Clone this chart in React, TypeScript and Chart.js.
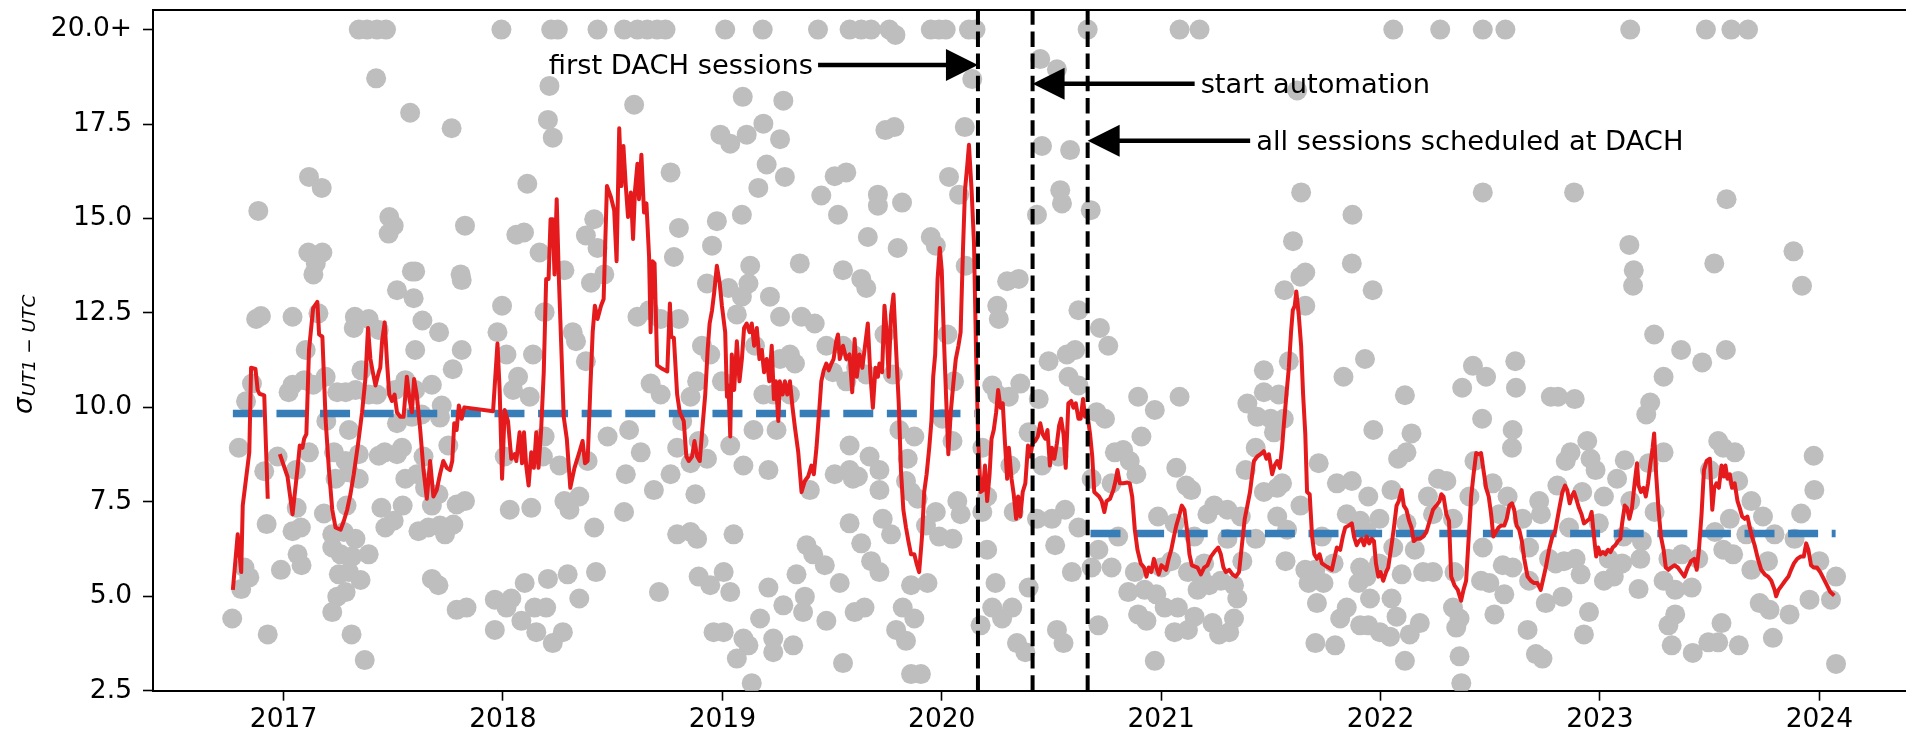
import React, { useEffect, useRef } from "react";
import { Chart, registerables } from "chart.js";

Chart.register(...registerables);

const FONT = '"DejaVu Sans", sans-serif';

// ---- axis ticks ----
const xTickYears = [2017, 2018, 2019, 2020, 2021, 2022, 2023, 2024];
const yTickValues = [2.5, 5, 7.5, 10, 12.5, 15, 17.5, 20];
const capValue = 20; // values above are shown at 20.0+
const xMin = 2016.405;
const xMax = 2024.6;
const yMin = 2.5;
const yMax = 20.519;

// ---- session scatter (year, sigma) ----
const sessions2016to2017: [number, number][] = [
  [2017.343,20],[2017.381,20],[2017.426,20],[2017.467,20],[2017.993,20],[2017.422,18.71],[2017.577,17.80],[2017.766,17.39],[2017.116,16.10],[2017.174,15.81],[2016.885,15.20],[2017.482,15.04],[2017.502,14.81],[2017.479,14.60],[2017.827,14.81],[2017.113,14.10],[2017.177,14.10],[2017.147,13.81],[2017.136,13.52],[2017.585,13.60],[2017.600,13.60],[2017.807,13.52],[2017.812,13.37],[2017.517,13.10],[2017.593,12.89],[2016.875,12.34],[2016.897,12.42],[2017.041,12.40],[2017.159,12.49],[2017.325,12.40],[2017.388,12.34],[2017.320,12.10],[2017.434,12.05],[2017.633,12.30],[2017.709,11.99],[2017.996,12.69],[2017.975,11.99],[2017.101,11.52],[2017.600,11.52],[2017.812,11.52],[2017.355,10.98],[2017.771,11.01],
  [2016.856,10.63],[2017.192,10.81],[2017.041,10.60],[2017.094,10.72],[2017.023,10.40],[2017.135,10.60],[2016.829,10.16],[2017.245,10.40],[2017.283,10.40],[2017.328,10.46],[2017.388,10.34],[2017.426,10.34],[2017.509,10.46],[2017.555,10.72],[2017.600,10.46],[2017.676,10.60],[2017.721,10.05],[2017.713,9.73],[2017.195,9.64],[2017.298,9.40],[2017.517,9.58],[2017.585,9.75],[2017.630,9.81],[2016.796,8.93],[2017.116,8.81],[2016.973,8.70],[2017.056,8.34],[2016.912,8.31],[2017.230,8.81],[2017.283,8.58],[2017.343,8.76],[2017.434,8.72],[2017.461,8.81],[2017.517,8.76],[2017.540,8.93],[2017.638,8.70],[2017.751,8.99],[2017.237,8.11],[2017.298,8.28],[2017.343,8.11],[2017.555,8.11],[2017.608,8.23],[2017.645,7.87],[2017.706,7.70],[2017.676,7.40],[2017.060,7.34],[2017.184,7.19],[2017.287,7.40],[2017.446,7.34],[2017.543,7.40],[2017.789,7.43],[2017.827,7.52],[2016.923,6.91],[2017.041,6.72],[2017.079,6.82],[2017.222,6.64],[2017.275,6.70],[2017.328,6.52],[2017.464,6.82],[2017.502,7.00],[2017.615,6.72],[2017.660,6.82],[2017.713,6.87],[2017.736,6.64],[2017.774,6.90],[2017.064,6.11],[2017.222,6.29],[2017.260,6.11],[2017.313,6.05],[2017.388,6.11],[2016.822,5.76],[2016.844,5.50],[2016.807,5.19],[2016.988,5.70],[2017.082,5.82],[2017.252,5.58],[2017.298,5.64],[2017.351,5.43],[2017.676,5.46],[2017.706,5.29],[2017.245,4.99],[2017.283,5.11],[2017.222,4.58],[2017.789,4.64],[2017.834,4.70],[2017.963,4.91],[2018.016,4.70],[2017.963,4.11],[2016.766,4.41],[2016.928,3.99],[2017.310,3.99],[2017.370,3.31],
];

const sessions2018to2019: [number, number][] = [
  [2018.220,20],[2018.250,20],[2018.431,20],[2018.552,20],[2018.613,20],[2018.658,20],[2018.703,20],[2018.741,20],[2019.013,20],[2019.184,20],[2019.436,20],[2019.580,20],
  [2018.212,18.51],[2018.598,18.01],[2018.205,17.61],[2018.227,17.14],[2019.278,18.12],[2019.093,18.22],[2019.187,17.51],[2018.991,17.22],[2019.111,17.22],[2019.036,16.98],[2019.263,17.10],[2018.111,15.92],[2018.764,16.22],[2019.202,16.43],[2019.285,16.10],[2019.164,15.81],[2019.451,15.61],[2019.512,16.12],[2019.565,16.22],[2018.061,14.57],[2018.096,14.63],[2018.167,14.10],[2018.378,14.55],[2018.416,14.98],[2018.431,14.22],[2018.802,14.75],[2018.779,13.98],[2018.975,14.93],[2019.089,15.10],[2018.953,14.28],[2019.527,15.10],[2018.280,13.63],[2018.401,13.30],[2018.462,13.52],[2019.127,13.75],[2019.353,13.81],[2019.550,13.63],[2018.930,13.28],[2019.028,13.16],[2018.190,12.52],[2018.613,12.40],[2018.666,12.57],[2018.719,12.34],[2018.802,12.34],[2019.119,13.28],[2019.089,12.93],[2019.217,12.93],[2019.066,12.46],[2019.263,12.40],[2019.361,12.40],[2019.421,12.22],[2018.016,11.40],[2018.137,11.40],[2018.318,11.99],[2018.333,11.75],[2018.378,11.22],[2018.907,11.63],[2018.945,11.40],[2019.149,11.63],[2019.263,11.28],[2019.308,11.40],[2019.331,11.16],[2019.474,11.63],[2019.550,11.63],[2019.595,11.40],
  [2018.069,10.81],[2018.046,10.46],[2018.122,10.28],[2018.673,10.63],[2018.719,10.34],[2018.855,10.28],[2018.885,10.69],[2018.998,10.69],[2019.187,10.34],[2019.232,10.34],[2019.308,10.34],[2019.504,10.93],[2019.565,10.69],[2018.190,9.23],[2018.477,9.23],[2018.575,9.40],[2018.817,9.64],[2018.892,9.11],[2019.036,8.99],[2019.142,9.40],[2019.247,9.40],[2019.580,8.99],[2018.008,8.70],[2018.182,8.70],[2018.258,8.46],[2018.386,8.58],[2018.628,8.81],[2018.794,8.93],[2018.855,8.52],[2018.930,8.64],[2019.096,8.46],[2019.210,8.34],[2019.512,8.23],[2019.580,8.34],[2018.560,8.23],[2018.688,7.81],[2018.764,8.23],[2018.877,7.70],[2018.280,7.52],[2018.348,7.64],[2019.399,7.81],[2019.595,8.11],[2018.031,7.29],[2018.129,7.34],[2018.303,7.29],[2018.552,7.23],[2018.416,6.82],[2018.794,6.64],[2018.855,6.70],[2018.885,6.52],[2019.051,6.64],[2019.384,6.35],[2019.414,6.11],[2019.467,5.82],[2019.580,6.93],
  [2018.099,5.35],[2018.205,5.46],[2018.295,5.58],[2018.424,5.64],[2018.711,5.11],[2018.892,5.52],[2018.945,5.29],[2019.036,5.11],[2019.006,5.64],[2019.210,5.23],[2019.338,5.58],[2019.376,4.99],[2019.535,5.35],[2018.038,4.94],[2018.084,4.35],[2018.144,4.70],[2018.197,4.70],[2018.348,4.94],[2019.278,4.76],[2019.368,4.58],[2019.474,4.35],[2019.603,4.58],[2018.152,4.05],[2018.227,3.76],[2018.273,4.05],[2018.960,4.05],[2019.006,4.05],[2019.096,3.88],[2019.172,4.41],[2019.232,3.88],[2019.232,3.52],[2019.323,3.70],[2019.119,3.70],[2019.066,3.35],[2019.134,2.70],[2019.550,3.23],
];

const sessions2019to2021: [number, number][] = [
  [2019.633,20],[2019.678,20],[2019.761,20],[2019.789,19.86],[2019.950,20],[2019.988,20],[2020.018,20],[2020.124,20],[2020.154,20],[2020.665,20],[2021.084,20],[2021.175,20],
  [2020.139,18.69],[2020.449,19.22],[2020.525,18.95],[2019.743,17.34],[2019.784,17.42],[2020.105,17.42],[2020.457,16.92],[2020.585,16.81],[2020.033,16.10],[2019.709,15.63],[2019.709,15.34],[2019.819,15.42],[2020.079,15.63],[2020.540,15.75],[2020.548,15.40],[2020.434,15.10],[2020.679,15.22],[2019.663,14.51],[2019.950,14.51],[2019.973,14.28],[2019.799,14.22],[2020.109,13.75],[2019.633,13.40],[2019.656,13.16],[2020.298,13.34],[2020.351,13.40],[2020.253,12.69],[2020.260,12.34],[2020.623,12.57],[2020.721,12.10],[2020.759,11.63],[2019.739,11.93],[2020.026,11.93],[2019.610,11.05],[2019.656,10.87],[2019.777,10.87],[2020.056,10.69],[2020.487,11.22],[2020.570,11.40],[2020.608,11.52],[2020.578,10.81],[2020.623,10.58],[2020.230,10.58],[2020.253,10.34],[2020.306,10.28],[2020.358,10.63],[2020.442,10.22],[2020.895,10.28],[2020.971,9.93],[2021.084,10.28],
  [2020.003,9.70],[2020.706,9.87],[2020.744,9.70],[2019.807,9.40],[2019.875,9.23],[2020.049,9.11],[2020.396,9.34],[2020.910,9.23],[2020.185,8.93],[2019.671,8.70],[2019.716,8.34],[2019.618,8.17],[2019.837,8.05],[2019.845,8.64],[2020.313,8.46],[2020.457,8.46],[2020.532,8.70],[2020.789,8.81],[2020.827,8.87],[2020.857,8.58],[2021.069,8.40],[2021.114,7.93],[2021.137,7.81],[2019.716,7.81],[2019.860,7.76],[2019.890,7.58],[2020.071,7.52],[2020.207,7.64],[2020.683,8.11],[2020.774,7.99],[2020.887,8.23],[2019.731,7.05],[2019.973,7.23],[2020.086,7.17],[2020.185,7.23],[2020.328,7.23],[2020.434,7.05],[2020.502,7.05],[2020.562,7.29],[2020.623,6.82],[2020.986,7.11],[2021.061,6.93],[2019.769,6.64],[2019.633,6.40],[2019.928,6.87],[2019.988,6.58],[2020.049,6.52],[2020.207,6.23],[2020.517,6.35],[2020.714,6.23],[2020.804,6.58],
  [2019.678,5.93],[2019.716,5.64],[2020.593,5.64],[2020.683,5.76],[2020.774,5.76],[2020.880,5.64],[2021.001,5.76],[2021.046,5.93],[2021.122,5.64],[2019.860,5.29],[2019.935,5.35],[2020.245,5.35],[2020.396,5.23],[2020.850,5.11],[2020.925,5.17],[2020.978,5.05],[2019.648,4.70],[2019.822,4.70],[2019.875,4.41],[2020.230,4.70],[2020.275,4.41],[2020.321,4.70],[2020.895,4.52],[2020.933,4.35],[2021.016,4.70],[2021.076,4.70],[2021.152,4.46],[2019.792,4.11],[2019.837,3.82],[2020.177,4.23],[2020.525,4.11],[2020.555,3.76],[2020.714,4.23],[2021.061,4.05],[2021.122,4.11],[2020.343,3.76],[2020.381,3.52],[2019.860,2.94],[2019.905,2.94],[2020.971,3.29],
];

const sessions2021to2022: [number, number][] = [
  [2022.058,20],[2022.272,20],[2022.466,20],[2022.569,20],
  [2021.620,18.39],[2021.638,15.69],[2022.466,15.69],[2021.872,15.10],[2021.601,14.40],[2021.869,13.81],[2021.657,13.57],[2021.635,13.46],[2021.964,13.10],[2021.562,13.10],[2021.657,12.69],[2021.929,11.28],[2021.468,10.98],[2021.582,11.22],[2021.831,10.81],[2022.421,11.10],[2022.481,10.81],[2022.614,11.22],[2022.617,10.52],[2022.372,10.52],[2022.111,10.32],[2021.393,10.10],[2021.468,10.40],[2021.438,9.75],[2021.499,9.70],[2021.559,9.70],[2021.536,10.34],[2022.463,9.70],[2021.967,9.40],[2022.141,9.31],[2022.602,9.40],[2022.599,8.93],[2022.776,10.28],[2021.431,8.93],[2021.514,9.34],[2021.385,8.34],[2022.118,8.81],[2022.080,8.64],[2022.428,8.58],[2021.718,8.52],
  [2021.242,7.40],[2021.302,7.29],[2021.529,7.87],[2021.551,7.99],[2021.468,7.76],[2021.635,7.40],[2021.801,7.99],[2021.869,8.05],[2021.944,7.64],[2022.050,7.81],[2022.262,8.11],[2022.300,8.05],[2022.216,7.64],[2022.405,7.64],[2022.511,7.99],[2022.579,7.64],[2022.723,7.52],[2021.211,7.17],[2021.363,7.11],[2021.529,7.11],[2021.846,7.17],[2021.907,7.00],[2021.995,7.05],[2022.118,6.93],[2022.239,7.17],[2022.330,7.05],[2022.541,7.17],[2022.647,7.05],[2022.731,7.17],[2021.151,6.58],[2021.302,6.52],[2021.431,6.52],[2021.574,6.76],[2021.733,6.58],[2021.937,6.70],[2022.058,6.29],[2022.156,6.23],[2022.466,6.29],[2022.677,6.29],
  [2021.196,5.87],[2021.181,5.52],[2021.370,5.93],[2021.567,5.93],[2021.657,5.70],[2021.703,5.70],[2021.786,5.87],[2021.907,5.76],[2021.937,5.52],[2021.993,5.87],[2022.096,5.58],[2022.194,5.64],[2022.239,5.64],[2022.337,5.64],[2022.557,5.82],[2022.602,5.76],[2022.768,5.99],[2021.166,5.17],[2021.219,5.29],[2021.272,5.41],[2021.332,5.29],[2021.672,5.35],[2021.740,5.35],[2021.899,5.35],[2022.458,5.41],[2022.496,5.35],[2022.564,5.05],[2022.677,5.41],[2021.347,4.94],[2021.332,4.41],[2021.234,4.29],[2021.710,4.82],[2021.846,4.70],[2021.816,4.41],[2021.952,4.94],[2022.050,4.94],[2022.073,4.46],[2022.330,4.70],[2022.360,4.41],[2022.519,4.52],[2022.753,4.82],[2021.264,3.99],[2021.310,4.05],[2021.907,4.23],[2021.944,4.23],[2021.997,4.05],[2022.043,3.93],[2022.133,3.99],[2022.179,4.29],[2022.345,4.17],[2022.360,3.41],[2022.670,4.11],[2021.703,3.76],[2021.793,3.70],[2022.111,3.29],[2022.708,3.47],[2022.738,3.35],[2022.368,2.70],
];

const sessions2022to2024: [number, number][] = [
  [2023.138,20],[2023.483,20],[2023.599,20],[2023.675,20],
  [2022.882,15.69],[2023.577,15.51],[2023.134,14.30],[2023.154,13.63],[2023.151,13.22],[2023.521,13.81],[2023.882,14.13],[2023.921,13.22],[2023.247,11.93],[2023.370,11.52],[2023.466,11.19],[2023.574,11.52],[2023.290,10.81],[2022.809,10.28],[2022.885,10.22],[2023.229,10.13],[2023.211,9.81],[2022.942,9.11],[2023.539,9.11],[2023.562,8.93],[2023.615,8.81],[2023.974,8.72],[2022.866,8.81],[2022.844,8.58],[2022.957,8.64],[2022.980,8.34],[2023.113,8.60],[2023.222,8.52],[2023.290,8.81],[2023.078,8.11],[2023.501,8.34],[2023.630,8.05],[2023.977,7.81],[2022.806,7.93],[2022.919,7.76],[2023.018,7.64],[2023.138,7.52],[2023.249,7.23],[2023.690,7.52],[2023.743,7.11],[2023.917,7.19],[2022.859,6.82],[2022.995,6.93],[2023.108,6.58],[2023.191,6.46],[2023.524,6.70],[2023.592,7.05],[2023.667,6.64],[2023.796,6.64],[2023.887,6.52],
  [2022.798,5.87],[2022.836,5.93],[2022.889,5.99],[2023.040,5.99],[2023.101,5.87],[2023.184,5.99],[2023.312,5.99],[2023.373,6.11],[2023.448,5.99],[2023.562,6.23],[2023.607,6.11],[2023.690,5.70],[2023.766,5.93],[2024.000,5.93],[2022.912,5.58],[2023.018,5.41],[2023.063,5.52],[2023.290,5.41],[2023.343,5.17],[2023.418,5.23],[2023.176,5.19],[2024.076,5.52],[2022.829,4.99],[2022.950,4.58],[2023.728,4.82],[2023.773,4.64],[2023.864,4.52],[2023.955,4.91],[2024.053,4.91],[2022.927,3.99],[2023.312,4.23],[2023.343,4.52],[2023.554,4.29],[2023.788,3.90],[2023.327,3.70],[2023.423,3.50],[2023.494,3.78],[2023.539,3.78],[2023.633,3.70],[2024.076,3.21],
];

// ---- rolling mean (year, sigma) ----
const rollingFirstStretch: [number, number][] = [
  [2016.769,5.17],[2016.791,6.64],[2016.807,5.64],[2016.814,7.40],[2016.844,8.81],[2016.852,11.05],[2016.872,11.02],[2016.882,10.46],[2016.890,10.36],[2016.912,10.32],[2016.928,7.58],
];
const rollingGapYear = 2016.95;
const rolling2017: [number, number][] = [
  [2016.983,8.76],[2017.018,8.17],[2017.041,7.17],[2017.064,8.40],[2017.074,8.99],[2017.086,8.93],[2017.094,9.17],[2017.104,9.29],[2017.116,11.52],[2017.135,12.63],[2017.154,12.79],[2017.162,11.93],[2017.177,11.87],[2017.192,9.64],[2017.207,8.34],[2017.222,7.29],[2017.237,6.82],[2017.260,6.76],[2017.275,7.0],[2017.290,7.29],[2017.305,7.70],[2017.320,8.23],[2017.340,9.05],[2017.358,9.87],[2017.373,10.75],[2017.385,12.10],[2017.396,11.28],[2017.407,10.93],[2017.419,10.58],[2017.434,10.93],[2017.441,11.05],[2017.449,11.75],[2017.461,12.25],[2017.472,11.16],[2017.482,10.34],[2017.494,10.17],[2017.506,10.34],[2017.517,9.87],[2017.532,9.75],[2017.547,9.75],[2017.562,10.81],[2017.574,10.22],[2017.585,9.87],[2017.595,10.75],[2017.607,10.34],[2017.623,9.40],[2017.638,8.34],[2017.653,7.58],[2017.668,8.58],[2017.683,7.64],[2017.698,7.81],[2017.713,8.23],[2017.728,8.58],[2017.744,8.40],[2017.759,8.34],[2017.769,8.58],[2017.778,9.58],[2017.789,9.40],[2017.799,10.05],[2017.812,9.70],[2017.824,10.0],[2017.955,9.90],[2017.975,11.69],[2017.985,10.46],[2017.996,8.11],
];
const rolling2018: [number, number][] = [
  [2018.008,9.93],[2018.023,9.64],[2018.038,8.64],[2018.054,8.76],[2018.061,8.58],[2018.076,9.34],[2018.087,8.52],[2018.096,9.34],[2018.106,8.46],[2018.117,7.93],[2018.129,8.81],[2018.141,8.40],[2018.152,9.34],[2018.162,8.40],[2018.174,9.40],[2018.186,10.93],[2018.197,13.40],[2018.208,13.40],[2018.217,14.98],[2018.227,14.98],[2018.235,13.52],[2018.245,15.51],[2018.255,13.40],[2018.265,11.75],[2018.277,9.75],[2018.291,9.17],[2018.307,7.87],[2018.326,8.40],[2018.348,8.81],[2018.363,9.11],[2018.374,8.52],[2018.386,8.58],[2018.398,10.46],[2018.409,11.99],[2018.419,12.69],[2018.431,12.34],[2018.447,12.69],[2018.459,12.87],[2018.465,14.10],[2018.474,15.86],[2018.492,15.57],[2018.507,15.22],[2018.518,13.87],[2018.530,17.39],[2018.540,15.86],[2018.549,16.92],[2018.560,15.86],[2018.570,15.04],[2018.583,15.69],[2018.593,14.46],[2018.602,15.75],[2018.613,16.45],[2018.620,15.51],[2018.631,16.69],[2018.643,15.16],[2018.654,15.40],[2018.666,13.99],[2018.673,11.99],[2018.681,13.87],[2018.691,13.81],[2018.703,11.11],[2018.726,11.02],[2018.749,10.95],[2018.761,12.75],[2018.767,11.87],[2018.779,11.84],[2018.794,10.34],[2018.806,9.87],[2018.824,9.64],[2018.836,8.70],[2018.847,8.58],[2018.862,8.70],[2018.873,9.11],[2018.885,8.70],[2018.897,8.58],[2018.910,9.52],[2018.922,10.34],[2018.933,11.52],[2018.942,12.22],[2018.953,12.57],[2018.963,13.05],[2018.975,13.75],[2018.988,13.28],[2018.998,12.69],
];
const rolling2019: [number, number][] = [
  [2019.013,11.99],[2019.021,10.28],[2019.028,10.58],[2019.036,9.23],[2019.043,11.40],[2019.054,10.46],[2019.066,11.75],[2019.078,10.69],[2019.089,11.28],[2019.099,12.10],[2019.111,12.22],[2019.124,11.99],[2019.134,12.22],[2019.145,11.63],[2019.157,12.10],[2019.169,11.28],[2019.180,11.52],[2019.190,10.93],[2019.202,11.28],[2019.214,10.69],[2019.225,11.63],[2019.235,10.22],[2019.244,10.69],[2019.255,9.64],[2019.262,10.69],[2019.275,10.34],[2019.285,10.69],[2019.296,10.34],[2019.308,10.69],[2019.320,9.99],[2019.331,9.46],[2019.346,8.81],[2019.361,7.76],[2019.376,8.05],[2019.391,8.17],[2019.406,8.46],[2019.417,8.23],[2019.429,8.93],[2019.441,9.87],[2019.451,10.69],[2019.462,10.98],[2019.474,11.16],[2019.485,10.98],[2019.497,11.16],[2019.507,11.28],[2019.519,11.75],[2019.527,11.93],[2019.535,11.28],[2019.550,11.63],[2019.565,11.28],
  [2019.580,11.40],[2019.592,10.40],[2019.603,11.81],[2019.613,10.81],[2019.625,11.40],[2019.638,11.05],[2019.648,11.52],[2019.663,12.22],[2019.674,10.93],[2019.686,9.99],[2019.698,11.05],[2019.709,10.81],[2019.716,11.16],[2019.728,10.93],[2019.739,12.69],[2019.749,11.99],[2019.758,10.81],[2019.769,12.46],[2019.780,12.99],[2019.792,11.52],[2019.804,10.11],[2019.814,8.34],[2019.825,7.29],[2019.837,6.82],[2019.848,6.46],[2019.860,6.11],[2019.875,6.11],[2019.885,5.87],[2019.897,5.64],[2019.910,6.58],[2019.920,7.76],[2019.931,8.23],[2019.943,8.93],[2019.953,9.64],[2019.961,10.81],[2019.970,11.40],[2019.981,13.40],[2019.991,14.22],
];
const rolling2020: [number, number][] = [
  [2020.000,13.63],[2020.011,11.63],[2020.021,10.11],[2020.030,8.76],[2020.041,9.87],[2020.052,10.58],[2020.064,11.28],[2020.076,11.63],[2020.086,11.99],[2020.097,14.22],[2020.106,15.75],[2020.117,16.45],[2020.124,16.95],[2020.136,15.75],[2020.147,14.34],[2020.157,11.28],[2020.166,9.17],[2020.177,7.76],[2020.188,7.81],[2020.197,8.46],[2020.207,7.52],[2020.218,8.23],[2020.227,9.17],[2020.237,9.40],[2020.248,9.87],[2020.257,10.46],[2020.268,9.99],[2020.278,10.11],[2020.287,9.17],[2020.298,8.11],[2020.306,8.93],[2020.318,8.11],[2020.328,7.70],[2020.339,7.05],[2020.348,7.64],[2020.358,7.11],[2020.369,7.76],[2020.381,7.99],[2020.393,8.99],[2020.404,8.70],[2020.414,9.05],[2020.426,9.11],[2020.438,9.23],[2020.449,9.58],[2020.460,9.29],[2020.472,9.17],[2020.482,9.40],[2020.493,8.46],[2020.502,8.93],[2020.513,8.64],[2020.525,9.05],[2020.535,9.52],[2020.544,9.70],[2020.555,9.29],[2020.565,8.40],[2020.577,10.11],[2020.590,10.17],[2020.600,9.99],[2020.611,10.11],[2020.623,9.70],[2020.633,9.70],[2020.644,10.22],[2020.653,9.75],[2020.664,9.81],[2020.676,9.29],[2020.686,8.70],[2020.695,7.76],[2020.706,7.70],[2020.717,7.64],[2020.729,7.52],[2020.741,7.23],[2020.751,7.52],[2020.767,7.58],[2020.782,7.81],[2020.792,8.05],[2020.801,8.34],[2020.812,7.99],[2020.827,7.99],[2020.847,8.01],[2020.857,7.99],[2020.868,7.64],[2020.880,6.76],[2020.892,6.23],[2020.907,5.87],[2020.922,5.76],[2020.933,5.52],[2020.943,5.76],[2020.955,5.64],[2020.967,5.99],[2020.978,5.76],[2020.989,5.58],
];
const rolling2021: [number, number][] = [
  [2021.001,5.82],[2021.013,5.76],[2021.023,5.70],[2021.034,5.99],[2021.046,6.23],[2021.058,6.58],[2021.069,6.87],[2021.084,7.17],[2021.094,7.40],[2021.106,7.29],[2021.119,6.70],[2021.129,6.11],[2021.140,5.82],[2021.166,5.76],[2021.181,5.58],[2021.196,5.76],[2021.211,5.82],[2021.227,6.05],[2021.242,6.17],[2021.260,6.29],[2021.272,6.11],[2021.284,5.76],[2021.295,5.64],[2021.310,5.70],[2021.325,5.58],[2021.340,5.52],[2021.355,5.64],[2021.370,6.46],[2021.381,7.05],[2021.393,7.40],[2021.405,7.76],[2021.415,8.23],[2021.423,8.58],[2021.438,8.70],[2021.453,8.76],[2021.468,8.84],[2021.480,8.64],[2021.491,8.76],[2021.506,8.23],[2021.517,8.46],[2021.529,8.58],[2021.541,8.40],[2021.551,8.93],[2021.559,9.52],[2021.571,10.34],[2021.582,11.05],[2021.592,11.99],[2021.600,12.57],[2021.609,12.69],[2021.616,13.07],[2021.627,12.46],[2021.638,11.63],[2021.647,10.34],[2021.657,9.29],[2021.665,7.76],[2021.677,7.70],[2021.688,6.58],[2021.698,6.11],[2021.710,5.99],[2021.722,6.11],[2021.733,5.87],[2021.756,5.78],[2021.778,5.70],[2021.789,5.99],[2021.801,6.29],[2021.816,6.23],[2021.828,6.58],[2021.839,6.82],[2021.854,6.87],[2021.869,6.93],[2021.879,6.58],[2021.891,6.35],[2021.902,6.46],[2021.914,6.52],[2021.925,6.35],[2021.937,6.58],[2021.948,6.40],[2021.960,6.52],[2021.970,6.46],[2021.979,5.87],[2021.990,5.52],
];
const rolling2022: [number, number][] = [
  [2022.000,5.64],[2022.012,5.41],[2022.025,5.64],[2022.035,5.76],[2022.050,6.35],[2022.061,6.82],[2022.073,7.40],[2022.083,7.52],[2022.096,7.81],[2022.106,7.40],[2022.118,7.29],[2022.130,7.00],[2022.141,6.82],[2022.151,6.46],[2022.164,6.52],[2022.179,6.52],[2022.194,6.58],[2022.209,6.70],[2022.224,7.00],[2022.239,7.29],[2022.254,7.40],[2022.269,7.52],[2022.277,7.70],[2022.287,7.64],[2022.300,7.17],[2022.312,7.00],[2022.322,5.52],[2022.337,5.29],[2022.352,5.17],[2022.367,4.88],[2022.378,5.17],[2022.390,5.41],[2022.402,6.58],[2022.413,7.64],[2022.424,8.23],[2022.436,8.79],[2022.448,8.76],[2022.458,8.79],[2022.469,8.34],[2022.481,7.87],[2022.493,7.64],[2022.504,7.17],[2022.514,6.58],[2022.526,6.70],[2022.538,6.82],[2022.549,6.87],[2022.564,6.87],[2022.575,7.05],[2022.587,7.40],[2022.599,7.46],[2022.609,7.29],[2022.620,6.87],[2022.632,6.76],[2022.644,6.46],[2022.655,5.99],[2022.670,5.52],[2022.685,5.41],[2022.700,5.35],[2022.715,5.35],[2022.730,5.17],[2022.753,5.76],[2022.768,6.23],[2022.783,6.58],[2022.795,6.70],[2022.806,7.05],[2022.817,7.40],[2022.829,7.76],[2022.841,7.93],[2022.851,7.81],[2022.862,7.46],[2022.871,7.64],[2022.882,7.76],[2022.892,7.58],[2022.904,7.34],[2022.916,7.17],[2022.927,6.93],[2022.942,7.00],[2022.953,7.05],[2022.962,7.23],[2022.968,6.87],[2022.977,6.35],[2022.983,6.05],[2022.992,6.29],
];
const rolling2023: [number, number][] = [
  [2023.002,6.11],[2023.013,6.17],[2023.025,6.11],[2023.037,6.23],[2023.048,6.17],[2023.058,6.29],[2023.070,6.35],[2023.082,6.46],[2023.093,6.52],[2023.101,6.93],[2023.113,7.40],[2023.123,7.34],[2023.134,7.05],[2023.146,7.34],[2023.158,7.99],[2023.169,8.52],[2023.176,7.93],[2023.187,7.76],[2023.199,7.87],[2023.209,7.64],[2023.219,7.99],[2023.229,8.46],[2023.240,8.93],[2023.247,9.31],[2023.256,8.23],[2023.267,7.29],[2023.278,6.58],[2023.290,6.23],[2023.300,5.76],[2023.312,5.70],[2023.324,5.76],[2023.339,5.82],[2023.355,5.76],[2023.370,5.64],[2023.385,5.52],[2023.400,5.76],[2023.415,5.93],[2023.430,5.99],[2023.441,5.70],[2023.451,6.23],[2023.463,7.17],[2023.474,8.34],[2023.486,8.58],[2023.501,8.64],[2023.512,7.29],[2023.521,7.87],[2023.531,7.99],[2023.542,7.87],[2023.554,8.46],[2023.565,8.17],[2023.572,8.46],[2023.581,8.11],[2023.592,8.23],[2023.602,7.87],[2023.614,7.99],[2023.627,7.52],[2023.637,7.34],[2023.648,7.11],[2023.660,7.05],[2023.672,7.11],[2023.683,6.82],[2023.693,6.58],[2023.705,6.35],[2023.720,5.99],[2023.735,5.70],[2023.751,5.58],[2023.766,5.52],[2023.781,5.41],[2023.796,5.17],[2023.803,5.00],[2023.814,5.17],[2023.829,5.29],[2023.844,5.41],[2023.859,5.52],[2023.871,5.70],[2023.884,5.87],[2023.899,5.99],[2023.914,6.05],[2023.929,6.05],[2023.940,6.40],[2023.950,6.23],[2023.962,5.82],[2023.974,5.76],[2023.989,5.76],[2024.004,5.64],[2024.020,5.46],[2024.035,5.29],[2024.050,5.11],[2024.068,5.02],
];

// ---- period means ----
const meanBeforeValue = 9.84;
const meanBeforeSpan = [2016.769, 2020.15];
const meanAfterValue = 6.66;
const meanAfterSpan = [2020.678, 2024.074];

// ---- events ----
const eventYears = [2020.165, 2020.414, 2020.665];
const eventLabels = ["first DACH sessions", "start automation", "all sessions scheduled at DACH"];
const eventTextYears = [2018.209, 2021.18, 2021.433];
const eventArrowValues = [19.06, 18.57, 17.06];

const toPoints = (arr: [number, number][]) => arr.map(([x, y]) => ({ x, y: Math.min(y, capValue) }));

function drawArrow(ctx: CanvasRenderingContext2D, fromX: number, toX: number, y: number) {
  const dir = toX > fromX ? 1 : -1;
  const headLen = 32;
  const headHalf = 16;
  const shaft = 4.5;
  const baseX = toX - dir * headLen;
  ctx.beginPath();
  ctx.moveTo(fromX, y - shaft / 2);
  ctx.lineTo(baseX, y - shaft / 2);
  ctx.lineTo(baseX, y - headHalf);
  ctx.lineTo(toX, y);
  ctx.lineTo(baseX, y + headHalf);
  ctx.lineTo(baseX, y + shaft / 2);
  ctx.lineTo(fromX, y + shaft / 2);
  ctx.closePath();
  ctx.fill();
}

const decorPlugin = {
  id: "decor",
  afterDatasetsDraw(chart: any) {
    const { ctx, chartArea, scales } = chart;
    const xs = scales.x;
    const ys = scales.y;
    ctx.save();
    // top spine
    ctx.strokeStyle = "#000";
    ctx.lineWidth = 2;
    ctx.beginPath();
    ctx.moveTo(chartArea.left - 1, chartArea.top);
    ctx.lineTo(chartArea.right, chartArea.top);
    ctx.stroke();
    // annotations
    ctx.fillStyle = "#000";
    ctx.font = `27.3px ${FONT}`;
    ctx.textAlign = "left";
    ctx.textBaseline = "alphabetic";
    eventLabels.forEach((label, i) => {
      const tx = xs.getPixelForValue(eventTextYears[i]);
      const y = ys.getPixelForValue(eventArrowValues[i]);
      const target = xs.getPixelForValue(eventYears[i]);
      const w = ctx.measureText(label).width;
      ctx.fillText(label, tx, y + 9);
      const start = target > tx ? tx + w + 5 : tx - 6;
      drawArrow(ctx, start, target, y);
    });
    ctx.restore();
  },
  afterDraw(chart: any) {
    const { ctx, chartArea } = chart;
    ctx.save();
    ctx.fillStyle = "#000";
    ctx.textBaseline = "alphabetic";
    ctx.textAlign = "left";
    const mainFont = `italic 26.5px ${FONT}`;
    const subFont = `italic 18.5px ${FONT}`;
    ctx.font = mainFont;
    const sw = ctx.measureText("σ").width;
    ctx.font = subFont;
    const sub = "UT1 − UTC";
    const subW = ctx.measureText(sub).width;
    const total = sw + 1 + subW;
    const cy = (chartArea.top + chartArea.bottom) / 2 + 4;
    ctx.translate(31.5, cy + total / 2);
    ctx.rotate(-Math.PI / 2);
    ctx.font = mainFont;
    ctx.fillText("σ", 0, 0);
    ctx.font = subFont;
    ctx.fillText(sub, sw + 1, 3.5);
    ctx.restore();
  },
};

export default function App() {
  const ref = useRef<HTMLCanvasElement>(null);
  useEffect(() => {
    const canvas = ref.current;
    if (!canvas) return;
    const scatterData = [
      ...sessions2016to2017,
      ...sessions2018to2019,
      ...sessions2019to2021,
      ...sessions2021to2022,
      ...sessions2022to2024,
    ];
    const rollingData: any[] = [
      ...toPoints(rollingFirstStretch),
      { x: rollingGapYear, y: null },
      ...toPoints([...rolling2017, ...rolling2018, ...rolling2019, ...rolling2020, ...rolling2021, ...rolling2022, ...rolling2023]),
    ];
    const lineBase = { showLine: true, pointRadius: 0, pointHoverRadius: 0, tension: 0, fill: false };
    const datasets: any[] = [
      ...eventYears.map((t) => ({
        ...lineBase,
        data: [{ x: t, y: yMin }, { x: t, y: yMax }],
        borderColor: "#000",
        borderWidth: 4,
        borderDash: [15.5, 6.7],
        borderCapStyle: "butt",
        order: 1,
      })),
      {
        ...lineBase,
        data: rollingData,
        borderColor: "#e41a1c",
        borderWidth: 4,
        borderJoinStyle: "round",
        spanGaps: false,
        order: 2,
      },
      {
        ...lineBase,
        data: [{ x: meanBeforeSpan[0], y: meanBeforeValue }, { x: meanBeforeSpan[1], y: meanBeforeValue }],
        borderColor: "#377eb8",
        borderWidth: 7.5,
        borderDash: [30, 13.6],
        borderCapStyle: "butt",
        order: 3,
      },
      {
        ...lineBase,
        data: [{ x: meanAfterSpan[0], y: meanAfterValue }, { x: meanAfterSpan[1], y: meanAfterValue }],
        borderColor: "#377eb8",
        borderWidth: 7.5,
        borderDash: [30, 13.6],
        borderCapStyle: "butt",
        order: 3,
      },
      {
        data: toPoints(scatterData),
        showLine: false,
        pointRadius: 10,
        pointHoverRadius: 10,
        pointBackgroundColor: "#bebebe",
        pointBorderWidth: 0,
        borderWidth: 0,
        order: 5,
      },
    ];
    const chart = new Chart(canvas, {
      type: "scatter",
      data: { datasets },
      plugins: [decorPlugin],
      options: {
        animation: false,
        responsive: false,
        devicePixelRatio: 1,
        events: [],
        layout: { padding: { left: 0, top: 6.3, right: 0, bottom: 0 } },
        plugins: { legend: { display: false }, tooltip: { enabled: false } },
        scales: {
          x: {
            type: "linear",
            min: xMin,
            max: xMax,
            afterBuildTicks: (s: any) => {
              s.ticks = xTickYears.map((v) => ({ value: v }));
            },
            afterFit: (s: any) => {
              s.height = 44.3;
              s.paddingLeft = 0;
              s.paddingRight = 0;
            },
            grid: { display: true, drawOnChartArea: false, drawTicks: true, tickLength: 10, tickWidth: 1.6, tickColor: "#000", color: "#000" },
            border: { display: true, color: "#000", width: 2 },
            ticks: {
              autoSkip: false,
              maxRotation: 0,
              padding: 4,
              color: "#000",
              font: { family: "DejaVu Sans", size: 26.5 },
              callback: (v: any) => String(v),
            },
          },
          y: {
            type: "linear",
            min: yMin,
            max: yMax,
            afterBuildTicks: (s: any) => {
              s.ticks = yTickValues.map((v) => ({ value: v }));
            },
            afterFit: (s: any) => {
              s.width = 153;
              s.paddingTop = 0;
              s.paddingBottom = 0;
            },
            grid: { display: true, drawOnChartArea: false, drawTicks: true, tickLength: 10, tickWidth: 1.6, tickColor: "#000", color: "#000" },
            border: { display: true, color: "#000", width: 2 },
            ticks: {
              padding: 11,
              color: "#000",
              font: { family: "DejaVu Sans", size: 26.5 },
              callback: (v: any) => (Number(v) === capValue ? "20.0+" : Number(v).toFixed(1)),
            },
          },
        },
      } as any,
    });
    return () => chart.destroy();
  }, []);
  return (
    <div style={{ position: "absolute", left: 0, top: 0, width: 1906, height: 735, overflow: "hidden", background: "#fff" }}>
      <canvas ref={ref} width={1961} height={735} style={{ display: "block", width: 1961, height: 735 }} />
    </div>
  );
}
